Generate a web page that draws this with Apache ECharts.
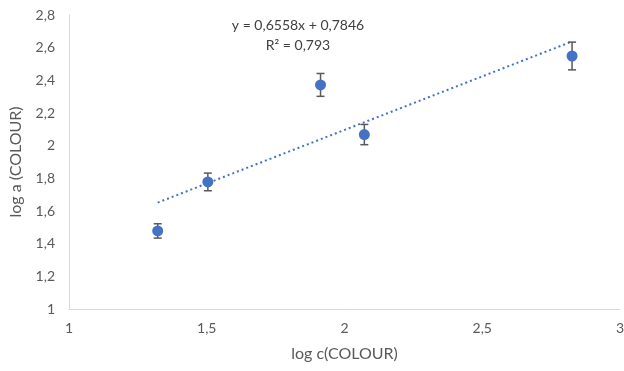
<!DOCTYPE html>
<html><head><meta charset="utf-8">
<script src="https://cdn.jsdelivr.net/npm/echarts@6/dist/echarts.min.js"></script>
<style>html,body{margin:0;padding:0;background:#fff}#c{width:624px;height:371px}</style>
</head><body><div id="c"></div>
<script>
const xVals = [1.322, 1.504, 1.913, 2.072, 2.826];
const yVals = [1.478, 1.778, 2.372, 2.068, 2.549];
const errVals = [0.044, 0.054, 0.070, 0.062, 0.085];
const slope = 0.6558, intercept = 0.7846;
const eqText = 'y = 0,6558x + 0,7846';
const r2Text = 'R² = 0,793';
const xTitle = 'log c(COLOUR)';
const yTitle = 'log a (COLOUR)';

const pts = xVals.map((x,i)=>[x, yVals[i]]);
const errData = xVals.map((x,i)=>[x, yVals[i]-errVals[i], yVals[i]+errVals[i]]);
const xMinD = Math.min(...xVals), xMaxD = Math.max(...xVals);
const trend = [[xMinD, slope*xMinD+intercept],[xMaxD, slope*xMaxD+intercept]];
const fmt = v => String(v).replace('.', ',');
const font = "Lato, 'Open Sans', sans-serif";

const chart = echarts.init(document.getElementById('c'));
chart.setOption({
  animation:false,
  grid:{left:69,right:4,top:15,bottom:62,containLabel:false,outerBoundsMode:'none'},
  xAxis:{type:'value',min:1,max:3,interval:0.5,
    axisLine:{lineStyle:{color:'#d9d9d9'}},axisTick:{show:false},splitLine:{show:false},
    axisLabel:{color:'#595959',fontSize:14,fontFamily:font,margin:12,formatter:fmt},
    name:xTitle,nameLocation:'middle',nameGap:37,
    nameTextStyle:{color:'#595959',fontSize:16,fontFamily:font}},
  yAxis:{type:'value',min:1,max:2.8,interval:0.2,
    axisLine:{show:true,lineStyle:{color:'#d9d9d9'}},axisTick:{show:false},splitLine:{show:false},
    axisLabel:{color:'#595959',fontSize:14,fontFamily:font,margin:14,formatter:v=>fmt(Math.round(v*10)/10)},
    name:yTitle,nameLocation:'middle',nameGap:45,
    nameTextStyle:{color:'#595959',fontSize:16,fontFamily:font}},
  series:[
    {type:'line',data:trend,symbol:'none',lineStyle:{color:'#4472c4',width:2,type:[2,3]},z:2},
    {type:'custom',data:errData,z:3,
      renderItem:(params,api)=>{
        const x=api.value(0);
        const lo=api.coord([x,api.value(1)]), hi=api.coord([x,api.value(2)]);
        const w=4, st={stroke:'#595959',lineWidth:1.5};
        return {type:'group',children:[
          {type:'line',shape:{x1:lo[0],y1:lo[1],x2:hi[0],y2:hi[1]},style:st},
          {type:'line',shape:{x1:lo[0]-w,y1:lo[1],x2:lo[0]+w,y2:lo[1]},style:st},
          {type:'line',shape:{x1:hi[0]-w,y1:hi[1],x2:hi[0]+w,y2:hi[1]},style:st}
        ]};
      }},
    {type:'scatter',data:pts,symbolSize:11,itemStyle:{color:'#4472c4',opacity:1},z:4}
  ],
  graphic:[
    {type:'text',x:298,y:25,style:{text:eqText,fill:'#404040',fontSize:14,fontFamily:font,align:'center',verticalAlign:'middle'}},
    {type:'text',x:298,y:45,style:{text:r2Text,fill:'#404040',fontSize:14,fontFamily:font,align:'center',verticalAlign:'middle'}}
  ]
});
</script></body></html>
